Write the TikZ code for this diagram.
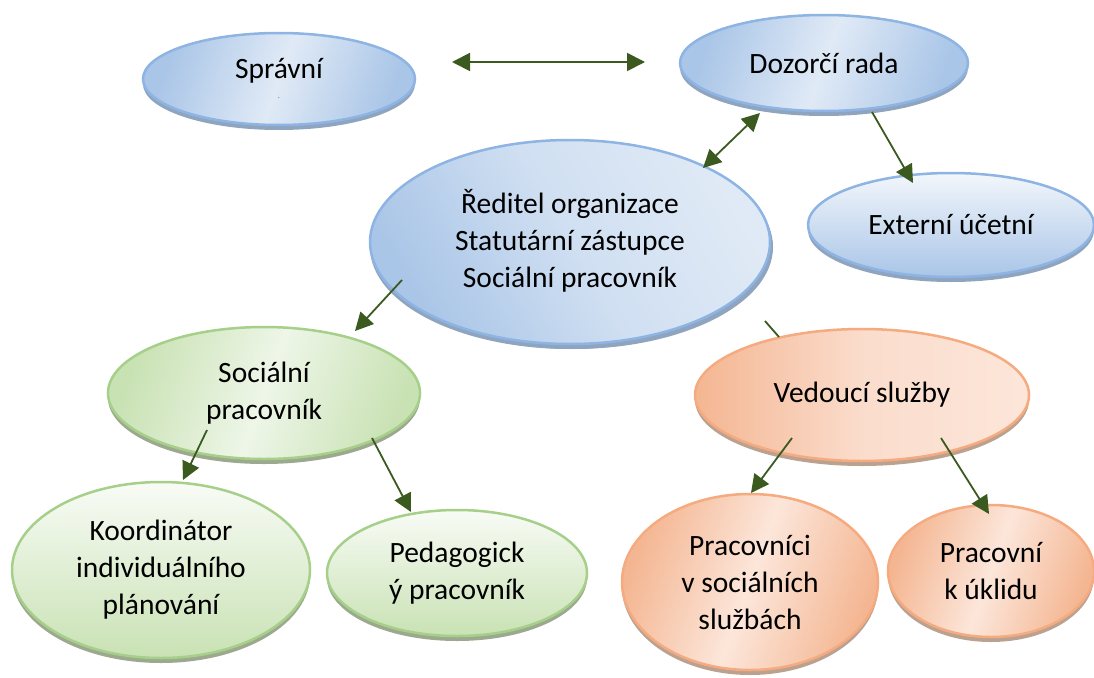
\documentclass[tikz,border=0pt]{standalone}
\usepackage{fontspec}
\setmainfont{Carlito}
\usetikzlibrary{arrows.meta,shapes.geometric,shadows,calc}

\definecolor{blueB}{HTML}{8DB4E2}
\definecolor{blueD}{HTML}{A9C5E7}
\definecolor{blueL}{HTML}{E0EAF6}
\definecolor{blueS}{HTML}{8FA4BF}
\definecolor{greenB}{HTML}{A6D08A}
\definecolor{greenD}{HTML}{C9E2B4}
\definecolor{greenL}{HTML}{EEF6E8}
\definecolor{greenS}{HTML}{9CA98F}
\definecolor{orangeB}{HTML}{F5AB7F}
\definecolor{orangeD}{HTML}{F4B692}
\definecolor{orangeL}{HTML}{FCE6DA}
\definecolor{orangeS}{HTML}{BBA190}
\definecolor{arrowgreen}{HTML}{3B5A1F}

\tikzset{
  bubble/.style={ellipse, line width=2.5pt, inner sep=0pt, align=center,
                 font=\fontsize{29.5}{37}\selectfont},
  bluebub/.style={bubble, draw=blueB, shading=axis, left color=blueD,
                  right color=blueD, middle color=blueL, shading angle=70,
                  general shadow={fill=blueS, shadow yshift=-5pt}},
  greenbub/.style={bubble, draw=greenB, shading=axis, left color=greenD,
                   right color=greenD, middle color=greenL, shading angle=70,
                   general shadow={fill=greenS, shadow yshift=-5pt}},
  orangebub/.style={bubble, draw=orangeB, shading=axis, left color=orangeD,
                    right color=orangeD, middle color=orangeL, shading angle=70,
                    general shadow={fill=orangeS, shadow yshift=-5pt}}
}

\begin{document}
\begin{tikzpicture}[x=1pt,y=-1pt]
\useasboundingbox (0,0) rectangle (1094,677);

% top level
\node[bluebub, minimum width=272pt, minimum height=92pt] (spr) at (279,79)
  {Správní\\[-16pt]{\fontsize{5}{6}\selectfont -}};
\node[bluebub, minimum width=288pt, minimum height=96pt] (doz) at (824,63) {Dozorčí rada};
\node[bluebub, left color=blueD, right color=blueL, middle color=blueL!70!blueD,
      shading angle=120, general shadow={fill=blueS, shadow yshift=-5pt, shadow xshift=3pt},
      minimum width=400pt, minimum height=204pt] (red) at (570,242)
  {Ředitel organizace\\Statutární zástupce\\Sociální pracovník\\[-30pt]\mbox{}};
\node[bluebub, top color=blueL!40!white, bottom color=blueD, shading angle=0,
      minimum width=286pt, minimum height=104pt] (ext) at (951,225) {Externí účetní};

% middle level
\node[greenbub, minimum width=312pt, minimum height=132pt] (soc) at (264,393)
  {Sociální\\pracovník};
\node[orangebub, left color=orangeD, right color=orangeL, middle color=orangeL!80!orangeD,
      minimum width=334pt, minimum height=132pt] (ved) at (862,395) {Vedoucí služby};

% bottom level
\node[greenbub, top color=greenL!40!white, bottom color=greenD, shading angle=0,
      minimum width=298pt, minimum height=176pt] (koo) at (161,570)
  {Koordinátor\\individuálního\\plánování};
\node[greenbub, top color=greenL!40!white, bottom color=greenD, shading angle=0,
      minimum width=260pt, minimum height=126pt] (ped) at (457,573)
  {Pedagogick\\ý pracovník};
\node[orangebub, minimum width=256pt, minimum height=176pt] (pra) at (750,582)
  {Pracovníci\\v sociálních\\službách};
\node[orangebub, minimum width=206pt, minimum height=132pt] (ukl) at (991,571)
  {Pracovní\\k úklidu};

\begin{scope}[>={Triangle[length=18pt,width=18pt]},
              every edge/.style={draw=arrowgreen, line width=1.8pt}]
    \path [<->] ($(spr)+(173,-17)$) edge ($(doz)+(-179,-1)$);
    \path [<->] ($(doz)+(-64,50)$) edge ($(red)+(133,-74)$);
    \path [->] ($(doz)+(48,49)$) edge ($(ext)+(-38,-42)$);
    \path [->] ($(red)+(-168,38)$) edge ($(soc)+(91,-62)$);
    \path [-] ($(red)+(195,79)$) edge ($(ved)+(-83,-58)$);
    \path [->] ($(soc)+(-57,37)$) edge ($(koo)+(22,-90)$);
    \path [->] ($(soc)+(108,45)$) edge ($(ped)+(-46,-61)$);
    \path [->] ($(ved)+(-70,43)$) edge ($(pra)+(1,-89)$);
    \path [->] ($(ved)+(79,43)$) edge ($(ukl)+(-2,-57)$);
\end{scope}
\end{tikzpicture}
\end{document}
